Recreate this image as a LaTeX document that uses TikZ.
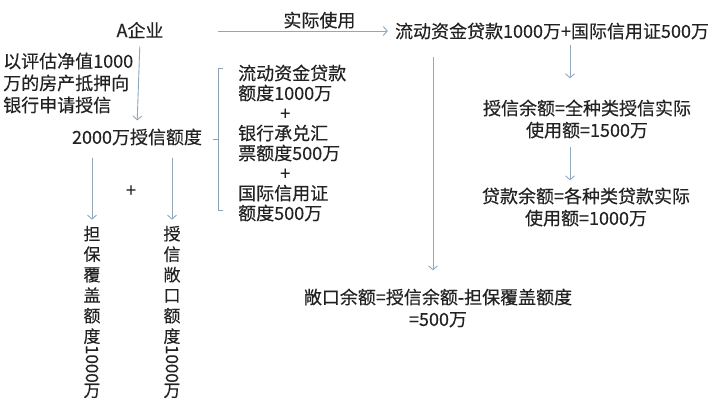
\documentclass[tikz,border=0pt]{standalone}
\usepackage{fontspec}
\setmainfont{Noto Sans CJK SC}[FakeBold=0.3]
\usetikzlibrary{arrows.meta}
\definecolor{arrowblue}{HTML}{8FA8BE}
\definecolor{inkgray}{HTML}{222222}
\newcommand{\turnnum}[1]{\rotatebox[origin=c]{-90}{#1}}
\begin{document}
\begin{tikzpicture}[x=1pt,y=-1pt,
txt/.style={
% plain text, no frame
text=inkgray,
font=\fontsize{18}{22}\selectfont,
inner sep=2pt
},
lines/.style={txt,align=left},
mid/.style={txt,align=center},
vert/.style={txt,align=center,font=\fontsize{17}{20.5}\selectfont},
arr/.style={draw=arrowblue,line width=0.9pt,-{Straight Barb[length=4pt,width=9pt]}},
brace/.style={draw=arrowblue!80!gray,line width=0.9pt}
]
\useasboundingbox (0,0) rectangle (720,411);
% Left part:
\node[txt] (firm) at (140,30) {A企业};
\node[lines,anchor=west] (pledge) at (1,83) {以评估净值1000\\万的房产抵押向\\银行申请授信};
\node[txt] (quota) at (137,137) {2000万授信额度};
\node[lines,anchor=west,font=\fontsize{18}{20}\selectfont] (kinds) at (236,143) {流动资金贷款\\额度1000万\\\hspace*{42pt}+\\银行承兑汇\\票额度500万\\\hspace*{42pt}+\\国际信用证\\额度500万};
\node[txt] (plus) at (131,191) {+};
\node[vert] (cover) at (92,312) {担\\保\\覆\\盖\\额\\度\\\turnnum{1000}\\万};
\node[vert] (open) at (172,312) {授\\信\\敞\\口\\额\\度\\\turnnum{1000}\\万};
% Right part:
\node[txt] (usage) at (552,31) {流动资金贷款1000万+国际信用证500万};
\node[mid] (balance) at (587,119) {授信余额=全种类授信实际\\使用额=1500万};
\node[mid] (loan) at (586,207) {贷款余额=各种类贷款实际\\使用额=1000万};
\node[mid] (gap) at (438,308) {敞口余额=授信余额-担保覆盖额度\\=500万};
\coordinate (spend) at (218,31);
\coordinate (drop) at (433,57);
\coordinate (rx) at (570,0);
\path (firm.south) edge[arr,shorten <=6pt,shorten >=6pt] (quota.north)
 (quota.south -| cover.north) edge[arr,shorten <=10pt,shorten >=4pt] (cover.north)
 (quota.south -| open.north) edge[arr,shorten <=10pt,shorten >=4pt] (open.north)
 (usage.south -| rx) edge[arr,shorten <=3pt,shorten >=19pt] (balance.north -| rx)
 (balance.south -| rx) edge[arr,shorten <=6pt,shorten >=5pt] (loan.north -| rx)
 (drop) edge[arr,shorten >=16pt] (drop |- gap.north);
\draw[arr,shorten >=5pt] (spend) -- node[txt,pos=0.58,above=0pt] (spendlbl) {实际使用} (usage.west);
\draw[brace] (223,68) -- (218,68) -- (218,210) -- (223,210) (218,139) -- (213,139);
\end{tikzpicture}
\end{document}
